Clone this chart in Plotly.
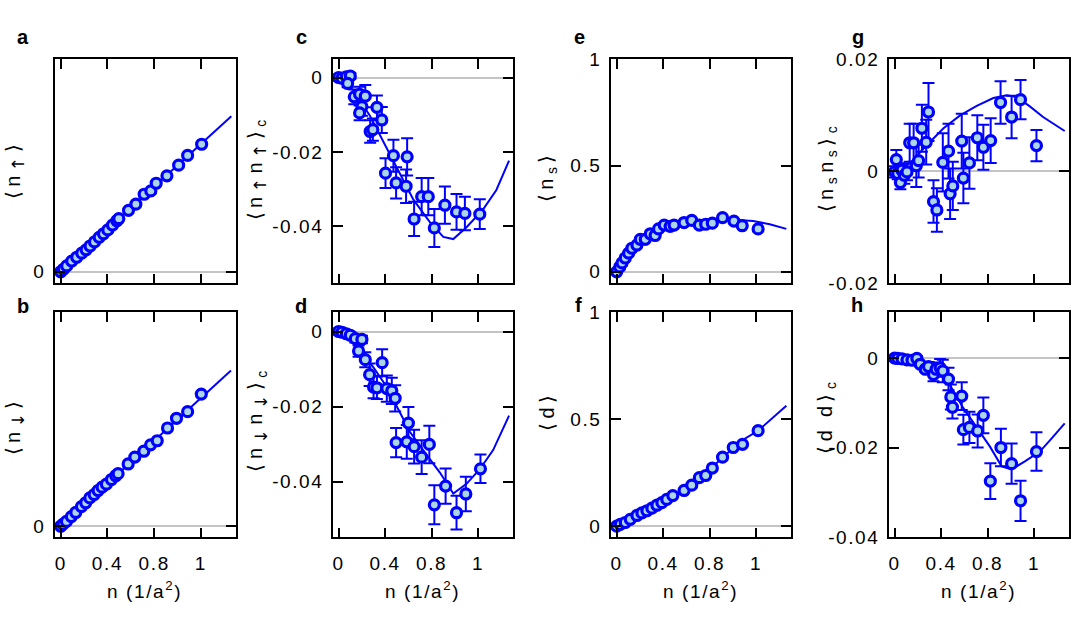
import plotly.graph_objects as go

# ---------------- data ----------------
x_tickvals = [0, 0.4, 0.8, 1.2]
x_ticktext = ["0", "0.4", "0.8", "1"]

# panel a  <n_up>
n_a = [0, 0.023, 0.051, 0.094, 0.137, 0.18, 0.217, 0.251, 0.289, 0.329, 0.366, 0.403,
       0.443, 0.48, 0.497, 0.58, 0.643, 0.714, 0.771, 0.817, 0.909, 1.009, 1.086, 1.206]
y_a = [0, 0.010, 0.023, 0.042, 0.057, 0.073, 0.086, 0.101, 0.117, 0.135, 0.149, 0.164,
       0.183, 0.2, 0.208, 0.241, 0.265, 0.304, 0.317, 0.347, 0.376, 0.418, 0.456, 0.5]
th_n_a = [0, 0.6, 1.46]
th_y_a = [0, 0.25, 0.61]

# panel b  <n_down>
n_b = [0, 0.02, 0.049, 0.091, 0.129, 0.177, 0.214, 0.249, 0.286, 0.32, 0.354, 0.391,
       0.434, 0.471, 0.491, 0.577, 0.634, 0.711, 0.769, 0.826, 0.914, 0.991, 1.086, 1.203]
y_b = [0, 0.008, 0.019, 0.038, 0.054, 0.077, 0.092, 0.111, 0.124, 0.14, 0.153, 0.165,
       0.183, 0.198, 0.206, 0.244, 0.271, 0.294, 0.319, 0.335, 0.385, 0.423, 0.449, 0.518]
th_n_b = [0, 0.6, 1.457]
th_y_b = [0, 0.252, 0.61]

# panel c  <n_up n_up>_c
n_c = [0, 0.029, 0.066, 0.1, 0.077, 0.134, 0.18, 0.229, 0.2, 0.18, 0.329, 0.371, 0.271,
       0.294, 0.403, 0.471, 0.494, 0.589, 0.58, 0.649, 0.714, 0.771, 0.823, 0.914, 1.014,
       1.086, 1.214]
y_c = [0, -0.0002, 0.0002, 0.0004, -0.0016, -0.0052, -0.0045, -0.005, -0.0078, -0.0095,
       -0.008, -0.0114, -0.0145, -0.014, -0.0257, -0.021, -0.0283, -0.0213, -0.0292,
       -0.038, -0.032, -0.032, -0.0404, -0.0343, -0.0361, -0.0365, -0.0367]
e_c = [0.0008, 0.0008, 0.0008, 0.0008, 0.001, 0.002, 0.002, 0.003, 0.0025, 0.002, 0.0032,
       0.0035, 0.003, 0.003, 0.004, 0.0043, 0.0042, 0.005, 0.0045, 0.0046, 0.005, 0.005,
       0.0051, 0.005, 0.0048, 0.0045, 0.004]
th_n_c = [0, 0.129, 0.271, 0.4, 0.543, 0.643, 0.786, 0.9, 0.986, 1.1, 1.243, 1.357, 1.466]
th_y_c = [0, -0.0035, -0.0104, -0.0181, -0.0268, -0.0328, -0.0389, -0.0428, -0.0434,
          -0.0402, -0.0354, -0.0302, -0.0223]

# panel d  <n_dn n_dn>_c
n_d = [0, 0.029, 0.066, 0.1, 0.143, 0.2, 0.171, 0.229, 0.266, 0.374, 0.3, 0.329, 0.414,
       0.457, 0.486, 0.494, 0.586, 0.6, 0.649, 0.714, 0.78, 0.823, 0.92, 1.014, 1.094, 1.22]
y_d = [0, -0.0002, -0.0006, -0.001, -0.0019, -0.0021, -0.0052, -0.0075, -0.0115, -0.0083,
       -0.0148, -0.015, -0.0152, -0.0158, -0.0178, -0.0296, -0.0294, -0.0244, -0.0307,
       -0.0335, -0.0301, -0.0462, -0.0412, -0.0483, -0.0433, -0.0366]
e_d = [0.0008, 0.0008, 0.0008, 0.0008, 0.001, 0.001, 0.0015, 0.002, 0.003, 0.0036, 0.003,
       0.003, 0.0035, 0.0035, 0.0035, 0.0039, 0.0045, 0.0043, 0.0045, 0.0045, 0.005,
       0.0052, 0.0047, 0.0045, 0.0046, 0.0038]
th_n_d = [0, 0.157, 0.3, 0.414, 0.5, 0.614, 0.757, 0.871, 0.986, 1.1, 1.214, 1.329, 1.466]
th_y_d = [0, -0.0036, -0.0096, -0.0148, -0.02, -0.0268, -0.0329, -0.0376, -0.0432,
          -0.0406, -0.0367, -0.0316, -0.0224]

# panel e  <n_s>
n_e = [0, 0.026, 0.046, 0.074, 0.103, 0.131, 0.174, 0.203, 0.246, 0.289, 0.331, 0.36,
       0.409, 0.46, 0.494, 0.58, 0.646, 0.711, 0.766, 0.823, 0.911, 1.009, 1.08, 1.217]
y_e = [0, 0.023, 0.042, 0.065, 0.088, 0.111, 0.126, 0.153, 0.153, 0.179, 0.171, 0.202,
       0.22, 0.214, 0.22, 0.232, 0.242, 0.22, 0.224, 0.229, 0.255, 0.239, 0.217, 0.202]
th_n_e = [0, 0.06, 0.146, 0.26, 0.403, 0.546, 0.774, 0.946, 1.174, 1.317, 1.46]
th_y_e = [0, 0.058, 0.118, 0.171, 0.209, 0.232, 0.244, 0.247, 0.239, 0.224, 0.202]

# panel f  <d>
n_f = [0, 0.031, 0.074, 0.117, 0.174, 0.217, 0.26, 0.303, 0.346, 0.389, 0.431, 0.483,
       0.58, 0.646, 0.711, 0.766, 0.823, 0.911, 1.003, 1.083, 1.217]
y_f = [0, 0.008, 0.017, 0.032, 0.05, 0.062, 0.072, 0.084, 0.098, 0.11, 0.125, 0.143,
       0.167, 0.192, 0.227, 0.237, 0.272, 0.323, 0.368, 0.383, 0.447]
th_n_f = [0, 0.203, 0.489, 0.774, 1.06, 1.217, 1.46]
th_y_f = [0, 0.05, 0.132, 0.252, 0.395, 0.447, 0.563]

# panel g  <n_s n_s>_c
n_g = [0, 0.014, 0.026, 0.049, 0.063, 0.083, 0.106, 0.129, 0.163, 0.186, 0.206, 0.234,
       0.271, 0.291, 0.334, 0.363, 0.414, 0.463, 0.477, 0.5, 0.577, 0.591, 0.643, 0.711,
       0.763, 0.826, 0.911, 1.006, 1.083, 1.22]
y_g = [-0.0001, 0.0021, -0.0004, -0.002, 0.0002, -0.0007, -0.0001, 0.0051, 0.0051, 0.001,
       0.0019, 0.0077, 0.0052, 0.0106, -0.0054, -0.0069, 0.0016, 0.0036, -0.004, -0.0026,
       0.0054, -0.0012, 0.0015, 0.006, 0.0043, 0.0055, 0.0123, 0.0097, 0.0128, 0.0046]
e_g = [0.001, 0.0017, 0.001, 0.0012, 0.0012, 0.0015, 0.0015, 0.0034, 0.0034, 0.0038,
       0.003, 0.0042, 0.004, 0.0052, 0.0038, 0.0039, 0.0052, 0.0049, 0.0045, 0.0043,
       0.0049, 0.0045, 0.0046, 0.004, 0.004, 0.004, 0.0038, 0.0038, 0.0035, 0.0028]
th_n_g = [0, 0.134, 0.263, 0.42, 0.563, 0.706, 0.849, 0.963, 1.049, 1.163, 1.277, 1.463]
th_y_g = [0, 0.0015, 0.0044, 0.0077, 0.01, 0.0117, 0.0131, 0.0136, 0.0133, 0.0116,
          0.0097, 0.0072]

# panel h  <d d>_c
n_h = [0, 0.026, 0.063, 0.106, 0.149, 0.191, 0.22, 0.263, 0.291, 0.334, 0.357, 0.391,
       0.414, 0.463, 0.483, 0.497, 0.577, 0.591, 0.643, 0.714, 0.763, 0.823, 0.914, 1.006,
       1.083, 1.22]
y_h = [0, -0.0001, -0.0002, -0.0004, -0.0005, -0.0001, -0.0014, -0.0025, -0.0019,
       -0.0037, -0.0025, -0.0022, -0.0029, -0.0047, -0.0087, -0.011, -0.0085, -0.016,
       -0.0155, -0.0163, -0.0128, -0.0275, -0.02, -0.0236, -0.0319, -0.0209]
e_h = [0.0005, 0.0005, 0.0005, 0.0005, 0.0005, 0.0005, 0.0005, 0.0005, 0.001, 0.0015,
       0.0015, 0.002, 0.0025, 0.0025, 0.0028, 0.0025, 0.0031, 0.0033, 0.0035, 0.0037,
       0.004, 0.004, 0.0042, 0.0045, 0.0045, 0.0043]
th_n_h = [0, 0.191, 0.363, 0.477, 0.591, 0.706, 0.82, 0.92, 1.006, 1.12, 1.249, 1.349, 1.463]
th_y_h = [0, -0.0007, -0.0029, -0.0061, -0.0112, -0.0155, -0.0198, -0.0242, -0.0249,
          -0.0231, -0.0209, -0.018, -0.0146]

# ---------------- style ----------------
W, H = 1080, 619
BLUE = "rgb(0,0,255)"
FILL = "rgb(170,214,230)"
FONT = "Liberation Sans, Arial, sans-serif"
TICKFONT = dict(family=FONT, size=19, color="black")


def spaced(s, ls=1.6):
    return '<span style="letter-spacing:%.1fpx">%s</span>' % (ls, s)


def arrow(a):
    return ('<sub><span style="font-family:DejaVu Sans;font-size:17px">%s</span></sub>'
            % a)


UP, DN = arrow("↑"), arrow("↓")

col_px = [(55, 236), (333, 513), (611, 791), (889, 1069)]
row_px = [(51, 283), (313, 546)]
XRANGE = [-0.049, 1.5]

panels = [
    dict(lab="a", col=0, row=0, n=n_a, y=y_a, e=None, tn=th_n_a, ty=th_y_a,
         yr=[-0.0455, 0.833], tv=[0], tt=["0"],
         title="⟨n%s⟩" % UP, tx=15, tyc=166),
    dict(lab="b", col=0, row=1, n=n_b, y=y_b, e=None, tn=th_n_b, ty=th_y_b,
         yr=[-0.044, 0.838], tv=[0], tt=["0"],
         title="⟨n%s⟩" % DN, tx=15, tyc=431),
    dict(lab="c", col=1, row=0, n=n_c, y=y_c, e=e_c, tn=th_n_c, ty=th_y_c,
         yr=[-0.0553, 0.0049], tv=[0, -0.02, -0.04], tt=["0", "-0.02", "-0.04"],
         title="⟨n%sn%s⟩<sub>c</sub>" % (UP, UP), tx=257, tyc=164),
    dict(lab="d", col=1, row=1, n=n_d, y=y_d, e=e_d, tn=th_n_d, ty=th_y_d,
         yr=[-0.0549, 0.0051], tv=[0, -0.02, -0.04], tt=["0", "-0.02", "-0.04"],
         title="⟨n%sn%s⟩<sub>c</sub>" % (DN, DN), tx=257, tyc=424),
    dict(lab="e", col=2, row=0, n=n_e, y=y_e, e=None, tn=th_n_e, ty=th_y_e,
         yr=[-0.0545, 1.0005], tv=[0, 0.5, 1], tt=["0", "0.5", "1"],
         title="⟨n<sub>s</sub>⟩", tx=547, tyc=172),
    dict(lab="f", col=2, row=1, n=n_f, y=y_f, e=None, tn=th_n_f, ty=th_y_f,
         yr=[-0.053, 1.0005], tv=[0, 0.5, 1], tt=["0", "0.5", "1"],
         title="⟨d⟩", tx=547, tyc=415),
    dict(lab="g", col=3, row=0, n=n_g, y=y_g, e=e_g, tn=th_n_g, ty=th_y_g,
         yr=[-0.02002, 0.02002], tv=[0.02, 0, -0.02], tt=["0.02", "0", "-0.02"],
         title="⟨n<sub>s</sub>n<sub>s</sub>⟩<sub>c</sub>", tx=827, tyc=163),
    dict(lab="h", col=3, row=1, n=n_h, y=y_h, e=e_h, tn=th_n_h, ty=th_y_h,
         yr=[-0.0401, 0.0102], tv=[0, -0.02, -0.04], tt=["0", "-0.02", "-0.04"],
         title="⟨d\u2009d⟩<sub>c</sub>", tx=827, tyc=420),
]
label_pos = {"a": (23, 28), "b": (23, 306), "c": (301, 28), "d": (301, 306),
             "e": (579, 28), "f": (578, 305), "g": (858, 28), "h": (857, 305)}

fig = go.Figure()
layout = dict(width=W, height=H, margin=dict(l=0, r=0, t=0, b=0),
              paper_bgcolor="white", plot_bgcolor="white", showlegend=False,
              font=dict(family=FONT, color="black"))
annotations = []

for i, p in enumerate(panels):
    k = "" if i == 0 else str(i + 1)
    xa, ya = "x" + k, "y" + k
    x0, x1 = col_px[p["col"]]
    yt, yb = row_px[p["row"]]
    layout["xaxis" + k] = dict(
        domain=[x0 / W, x1 / W], anchor=ya, range=XRANGE,
        tickvals=x_tickvals, ticktext=[spaced(t) for t in x_ticktext],
        showticklabels=(p["row"] == 1), tickfont=TICKFONT, ticklabelstandoff=8,
        ticks="inside", ticklen=10, tickwidth=1.5, tickcolor="black",
        showline=True, linecolor="black", linewidth=1.5, mirror="allticks",
        showgrid=False, zeroline=False)
    layout["yaxis" + k] = dict(
        domain=[1 - yb / H, 1 - yt / H], anchor=xa, range=p["yr"],
        tickvals=p["tv"], ticktext=[spaced(t) for t in p["tt"]], tickfont=TICKFONT,
        ticklabelstandoff=4,
        ticks="inside", ticklen=10, tickwidth=1.5, tickcolor="black",
        showline=True, linecolor="black", linewidth=1.5, mirror="allticks",
        showgrid=False, zeroline=True, zerolinecolor="#c4c4c4", zerolinewidth=1.5)
    fig.add_trace(go.Scatter(x=p["tn"], y=p["ty"], mode="lines", xaxis=xa, yaxis=ya,
                             line=dict(color=BLUE, width=2), hoverinfo="skip"))
    err = None
    if p["e"] is not None:
        err = dict(type="data", array=p["e"], visible=True, color=BLUE,
                   thickness=2, width=6)
    fig.add_trace(go.Scatter(x=p["n"], y=p["y"], mode="markers", xaxis=xa, yaxis=ya,
                             error_y=err,
                             marker=dict(size=10, color=FILL,
                                         line=dict(color=BLUE, width=3.2))))
    annotations.append(dict(text=spaced(p["title"], 4.5), xref="paper", yref="paper",
                            x=p["tx"] / W, y=1 - p["tyc"] / H, xanchor="center",
                            yanchor="middle", textangle=-90, showarrow=False,
                            font=dict(family=FONT, size=20, color="black")))
    lx, ly = label_pos[p["lab"]]
    annotations.append(dict(text="<b>%s</b>" % p["lab"], xref="paper", yref="paper",
                            x=lx / W, y=1 - ly / H, xanchor="center", yanchor="middle",
                            showarrow=False,
                            font=dict(family=FONT, size=20, color="black")))
    if p["row"] == 1:
        annotations.append(dict(text=spaced("n (1/a<sup>2</sup>)", 1.6),
                                xref="paper", yref="paper",
                                x=((x0 + x1) / 2 - 1) / W, y=1 - 600 / H,
                                xanchor="center", yanchor="middle", showarrow=False,
                                font=dict(family=FONT, size=19, color="black")))

layout["annotations"] = annotations
fig.update_layout(**layout)
fig.write_html("out.html")
